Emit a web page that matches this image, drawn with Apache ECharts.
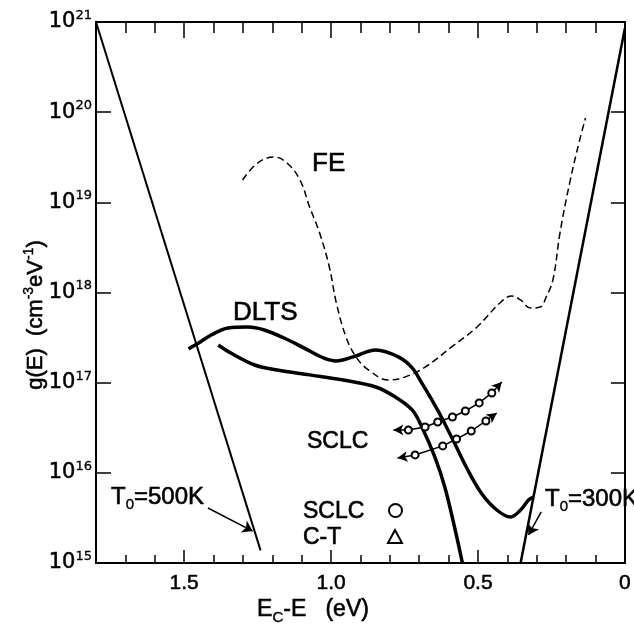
<!DOCTYPE html>
<html><head><meta charset="utf-8">
<script src="https://cdn.jsdelivr.net/npm/echarts@6/dist/echarts.min.js"></script>
<style>html,body{margin:0;padding:0;background:#fff}#c{width:634px;height:631px}</style>
</head><body><div id="c"></div>
<script>
// ---- data (E = Ec - E in eV, g in cm^-3 eV^-1) ----
const yTickExponents = [15, 16, 17, 18, 19, 20, 21];
const xTickLabels = ['0', '0.5', '1.0', '1.5'];

const t500E = [1.80, 1.24];
const t500G = [1e21, 1.38e15];

const t300E = [0.355, 0.0];
const t300G = [1e15, 8.5e20];

const dltsE = [1.485,1.451,1.408,1.351,1.284,1.227,1.160,1.093,1.026,0.982,0.925,0.848,0.771,0.724,0.691,0.657,0.623,0.580,0.540,0.489,0.436,0.389,0.355,0.328,0.312];
const dltsG = [2.37e17,2.75e17,3.38e17,4.04e17,4.14e17,3.84e17,3.13e17,2.43e17,1.88e17,1.74e17,1.93e17,2.30e17,1.93e17,1.46e17,9.9e16,6.43e16,4.06e16,2.14e16,1.16e16,5.98e15,3.87e15,3.24e15,3.87e15,5.0e15,5.4e15];

const lowE = [1.384,1.341,1.260,1.183,1.073,0.959,0.848,0.781,0.724,0.691,0.647,0.613,0.580,0.553];
const lowG = [2.62e17,2.13e17,1.57e17,1.38e17,1.22e17,1.07e17,8.95e16,6.93e16,4.98e16,3.22e16,1.50e16,6.97e15,2.51e15,1.0e15];

const feE = [1.301,1.250,1.193,1.150,1.106,1.073,1.039,1.006,0.982,0.949,0.915,0.872,0.804,0.747,0.680,0.590,0.503,0.422,0.385,0.355,0.322,0.288,0.268,0.245,0.221,0.188,0.154,0.134];
const feG = [1.77e19,2.73e19,3.18e19,2.73e19,1.77e19,8.87e18,4.57e18,1.92e18,7.66e17,3.21e17,1.93e17,1.38e17,1.07e17,1.16e17,1.49e17,2.49e17,4.15e17,7.85e17,9.14e17,8.26e17,6.73e17,6.90e17,8.91e17,1.38e18,4.57e18,1.64e19,4.91e19,8.61e19];

const sclc1E = [0.788,0.737,0.680,0.637,0.587,0.543,0.496,0.453,0.419];
const sclc1G = [2.99e16,2.99e16,3.22e16,3.66e16,4.16e16,4.85e16,5.96e16,7.69e16,1.02e17];
const sclc2E = [0.774,0.714,0.620,0.573,0.523,0.473,0.436];
const sclc2G = [1.46e16,1.58e16,1.99e16,2.37e16,2.91e16,3.76e16,4.61e16];

const arrow500 = [[1.419, 4.07e15], [1.267, 2.26e15]];
const arrow300 = [[0.285, 3.68e15], [0.328, 2.05e15]];

// ---- helpers ----
const FONT = '"Liberation Sans", Arial, sans-serif';
const pairs = (xs, ys) => xs.map((x, i) => [x, ys[i]]);
function arrowSeries(xs, ys, rotStart, rotEnd) {
  return pairs(xs, ys).map((p, i) => {
    if (i === 0) return {value: p, symbol: 'arrow', symbolSize: [8, 10], symbolRotate: rotStart};
    if (i === xs.length - 1) return {value: p, symbol: 'arrow', symbolSize: [8, 10], symbolRotate: rotEnd};
    return {value: p};
  });
}
const xFmt = v => {
  if (Math.abs(v * 2 - Math.round(v * 2)) > 1e-6) return '';
  const s = Math.abs(v) < 1e-9 ? '0' : v.toFixed(1);
  return xTickLabels.indexOf(s) >= 0 ? s : '';
};
const supRich = {
  b: {fontSize: 21, fontFamily: 'DejaVu Sans', lineHeight: 26, verticalAlign: 'middle', color: '#000', textBorderColor: '#000', textBorderWidth: 0.5},
  s: {fontSize: 13, fontFamily: 'DejaVu Sans', lineHeight: 26, verticalAlign: 'top', color: '#000', textBorderColor: '#000', textBorderWidth: 0.3}
};
const yFmt = v => {
  const e = Math.round(Math.log10(v));
  return yTickExponents.indexOf(e) >= 0 ? '{b|10}{s|' + e + '}' : '';
};
const axisBase = {splitLine: {show: false}};
function xAx(pos, interval, len, showLine, showLabel) {
  return Object.assign({}, axisBase, {
    type: 'value', min: 0, max: 1.8, interval: interval, inverse: true, position: pos,
    axisLine: {show: showLine, onZero: false, lineStyle: {color: '#000', width: 2}},
    axisTick: {show: true, inside: true, length: len, lineStyle: {color: '#000', width: 1.5}},
    axisLabel: {show: showLabel, interval: 0, margin: 10, fontSize: 21, fontFamily: FONT, color: '#000', textBorderColor: '#000', textBorderWidth: 0.5, formatter: xFmt}
  });
}
function yAx(pos, len, showLabel) {
  return Object.assign({}, axisBase, {
    type: 'log', logBase: 10, min: 1e15, max: 1e21, position: pos,
    axisLine: {show: true, onZero: false, lineStyle: {color: '#000', width: 2}},
    axisTick: {show: true, inside: true, length: len, lineStyle: {color: '#000', width: 1.5}},
    minorTick: {show: false},
    axisLabel: {show: showLabel, margin: 4, formatter: yFmt, rich: supRich}
  });
}
const lineS = (data, width, extra) => Object.assign({
  type: 'line', data: data, symbol: 'none', showSymbol: false, xAxisIndex: 0, yAxisIndex: 0,
  lineStyle: {color: '#000', width: width}, itemStyle: {color: '#000'}, silent: true, animation: false
}, extra || {});

const STROKE = {stroke: '#000', lineWidth: 0.6};
const txt = (x, y, text, size, rich, extraStyle) => ({
  type: 'text', x: x, y: y, silent: true,
  style: Object.assign({text: text, fontSize: size, fontFamily: FONT, fill: '#000', align: 'left', verticalAlign: 'middle', rich: rich || {}}, STROKE, extraStyle || {})
});
const subRich = s => ({s: {fontSize: s, fontFamily: FONT, lineHeight: 30, verticalAlign: 'bottom', fill: '#000', stroke: '#000', lineWidth: 0.4}});

const option = {
  backgroundColor: '#fff',
  animation: false,
  grid: {left: 96, right: 1, top: 22, bottom: 68, containLabel: false},
  xAxis: [
    xAx('bottom', 0.1, 8, true, true),
    xAx('bottom', 0.5, 13, false, false),
    xAx('top', 0.1, 11, true, false),
    xAx('top', 0.5, 16, false, false)
  ],
  yAxis: [yAx('left', 15, true), yAx('right', 14, false)],
  series: [
    lineS(pairs(t500E, t500G), 2),
    lineS(pairs(t300E, t300G), 2.5),
    lineS(pairs(dltsE, dltsG), 3.5, {smooth: 0.35}),
    lineS(pairs(lowE, lowG), 3.5, {smooth: 0.35}),
    lineS(pairs(feE, feG), 1.5, {smooth: 0.4, lineStyle: {color: '#000', width: 1.5, type: [7, 4]}}),
    lineS(arrowSeries(sclc1E, sclc1G, 90, -42), 1.5, {symbol: 'emptyCircle', symbolSize: 7, showSymbol: true, itemStyle: {color: '#000', borderWidth: 1.5}}),
    lineS(arrowSeries(sclc2E, sclc2G, 99, -54), 1.5, {symbol: 'emptyCircle', symbolSize: 7, showSymbol: true, itemStyle: {color: '#000', borderWidth: 1.5}}),
    {
      type: 'lines', coordinateSystem: 'cartesian2d', xAxisIndex: 0, yAxisIndex: 0, silent: true,
      symbol: ['none', 'arrow'], symbolSize: 10,
      lineStyle: {color: '#000', width: 1.5, curveness: 0, opacity: 1},
      data: [{coords: arrow500}, {coords: arrow300}]
    }
  ],
  graphic: [
    txt(312, 164, 'FE', 26),
    txt(233, 313, 'DLTS', 26),
    txt(307, 442, 'SCLC', 23),
    txt(303, 512, 'SCLC', 23),
    txt(303, 538, 'C-T', 23),
    txt(111, 497, 'T{s|0}=500K', 24, subRich(15)),
    txt(545, 499, 'T{s|0}=300K', 24, subRich(15)),
    {type: 'circle', silent: true, shape: {cx: 395.5, cy: 510.5, r: 6.5}, style: {fill: 'none', stroke: '#000', lineWidth: 2}},
    {type: 'polygon', silent: true, shape: {points: [[395, 530], [388, 543], [402, 543]]}, style: {fill: 'none', stroke: '#000', lineWidth: 2}},
    {type: 'text', silent: true, x: 313, y: 610, style: Object.assign({text: 'E{s|C}-E   (eV)', fontSize: 23, fontFamily: FONT, fill: '#000', align: 'center', verticalAlign: 'middle', rich: subRich(15)}, STROKE)},
    {type: 'text', silent: true, x: 36, y: 315, rotation: Math.PI / 2, style: Object.assign({text: 'g(E)  (cm{s|-3}eV{s|-1})', fontSize: 22, fontFamily: FONT, fill: '#000', align: 'center', verticalAlign: 'middle', rich: {s: {fontSize: 14, fontFamily: FONT, lineHeight: 28, verticalAlign: 'top', fill: '#000', stroke: '#000', lineWidth: 0.4}}}, STROKE)}
  ]
};
const chart = echarts.init(document.getElementById('c'), null, {renderer: 'canvas'});
chart.setOption(option);
</script>
</body></html>
